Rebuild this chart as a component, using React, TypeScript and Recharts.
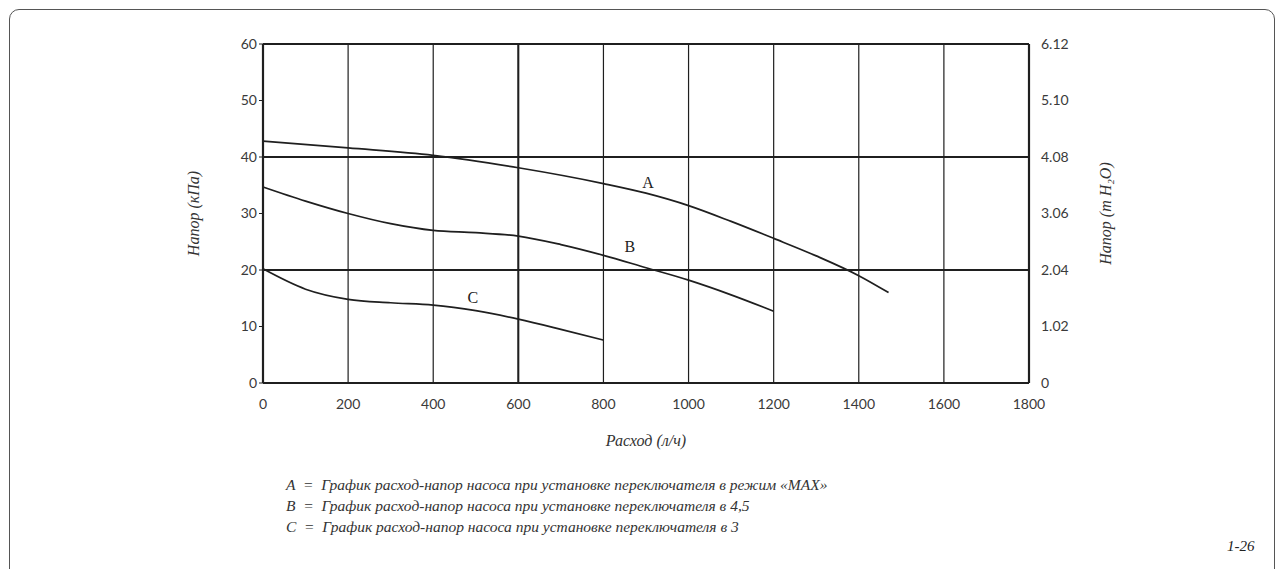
import React from 'react';
import { ComposedChart, Line, XAxis, YAxis, CartesianGrid, ReferenceLine, ReferenceDot } from 'recharts';

const flowTicks = [0, 200, 400, 600, 800, 1000, 1200, 1400, 1600, 1800];
const kpaTicks = [0, 10, 20, 30, 40, 50, 60];
const waterTicks = [0, 1.02, 2.04, 3.06, 4.08, 5.1, 6.12];

const curveA = [
  { flow: 0, head: 42.8 },
  { flow: 200, head: 41.6 },
  { flow: 400, head: 40.3 },
  { flow: 600, head: 38.1 },
  { flow: 800, head: 35.3 },
  { flow: 900, head: 33.6 },
  { flow: 1000, head: 31.4 },
  { flow: 1100, head: 28.6 },
  { flow: 1200, head: 25.6 },
  { flow: 1300, head: 22.5 },
  { flow: 1400, head: 19.0 },
  { flow: 1470, head: 16.0 },
];

const curveB = [
  { flow: 0, head: 34.7 },
  { flow: 100, head: 32.2 },
  { flow: 200, head: 30.0 },
  { flow: 300, head: 28.2 },
  { flow: 400, head: 27.0 },
  { flow: 500, head: 26.6 },
  { flow: 600, head: 26.0 },
  { flow: 700, head: 24.5 },
  { flow: 800, head: 22.6 },
  { flow: 900, head: 20.4 },
  { flow: 1000, head: 18.2 },
  { flow: 1100, head: 15.6 },
  { flow: 1200, head: 12.7 },
];

const curveC = [
  { flow: 0, head: 20.2 },
  { flow: 100, head: 16.6 },
  { flow: 200, head: 14.8 },
  { flow: 300, head: 14.2 },
  { flow: 400, head: 13.8 },
  { flow: 500, head: 12.8 },
  { flow: 600, head: 11.3 },
  { flow: 700, head: 9.5 },
  { flow: 800, head: 7.6 },
];

// same curve A, in metres of water (1 kPa = 0.102 m), keeps the right axis alive
const curveAWater = curveA.map((p) => ({ flow: p.flow, water: p.head * 0.102 }));

const curveLabels = [
  { name: 'A', flow: 905, head: 35.6 },
  { name: 'B', flow: 862, head: 24.2 },
  { name: 'C', flow: 493, head: 15.2 },
];

const legendLines = [
  'A  =  График расход-напор насоса при установке переключателя в режим «MAX»',
  'B  =  График расход-напор насоса при установке переключателя в 4,5',
  'C  =  График расход-напор насоса при установке переключателя в 3',
];

const tickStyle = { fontFamily: 'Lato, sans-serif', fontSize: 14, fill: '#3a3a3a' };
const serif = '"Liberation Serif", "DejaVu Serif", serif';
const ink = '#1f1f1f';
const titleStyle = { fontFamily: serif, fontStyle: 'italic', fontSize: 16, fill: '#333', textAnchor: 'middle' };

export default function App() {
  return (
    <div style={{ position: 'fixed', left: 0, top: 0, width: 1282, height: 569, background: '#fff', overflow: 'hidden' }}>
      <div
        style={{
          position: 'absolute',
          left: 9,
          top: 9,
          width: 1264,
          height: 570,
          border: '1.5px solid #555',
          borderRadius: 10,
        }}
      />
      <ComposedChart
        width={1282}
        height={569}
        margin={{ top: 44, right: 193, bottom: 156, left: 203 }}
        style={{ position: 'absolute', left: 0, top: 0 }}
      >
        <CartesianGrid stroke={ink} strokeWidth={1.2} horizontalValues={kpaTicks} verticalValues={flowTicks} />
        <ReferenceLine yAxisId="kpa" y={20} stroke={ink} strokeWidth={2} />
        <ReferenceLine yAxisId="kpa" y={40} stroke={ink} strokeWidth={2} />
        <ReferenceLine yAxisId="kpa" y={60} stroke={ink} strokeWidth={2.2} />
        <ReferenceLine yAxisId="kpa" x={600} stroke={ink} strokeWidth={2} />
        <ReferenceLine yAxisId="kpa" x={1800} stroke={ink} strokeWidth={2.2} />
        <XAxis
          dataKey="flow"
          type="number"
          domain={[0, 1800]}
          ticks={flowTicks}
          height={30}
          axisLine={{ stroke: ink, strokeWidth: 2.2 }}
          tickLine={false}
          tick={tickStyle}
          tickMargin={10}
          allowDuplicatedCategory={false}
          label={{ value: 'Расход (л/ч)', position: 'bottom', offset: 22, style: titleStyle }}
        />
        <YAxis
          yAxisId="kpa"
          type="number"
          domain={[0, 60]}
          ticks={kpaTicks}
          width={60}
          axisLine={{ stroke: ink, strokeWidth: 2.2 }}
          tickLine={{ stroke: ink }}
          tickSize={4}
          tick={tickStyle}
          label={{ value: 'Напор (кПа)', angle: -90, position: 'left', offset: 10, style: titleStyle }}
        />
        <YAxis
          yAxisId="water"
          orientation="right"
          type="number"
          domain={[0, 6.12]}
          ticks={waterTicks}
          width={60}
          axisLine={false}
          tickLine={false}
          tick={tickStyle}
          tickMargin={6}
          tickFormatter={(v: number) => (v === 0 ? '0' : v.toFixed(2))}
          label={{ value: 'Напор (m H₂O)', angle: -90, position: 'right', offset: 16, style: titleStyle }}
        />
        <Line yAxisId="water" data={curveAWater} dataKey="water" stroke="none" dot={false} activeDot={false} isAnimationActive={false} />
        <Line yAxisId="kpa" data={curveA} dataKey="head" type="monotone" stroke={ink} strokeWidth={1.7} dot={false} isAnimationActive={false} />
        <Line yAxisId="kpa" data={curveB} dataKey="head" type="monotone" stroke={ink} strokeWidth={1.7} dot={false} isAnimationActive={false} />
        <Line yAxisId="kpa" data={curveC} dataKey="head" type="monotone" stroke={ink} strokeWidth={1.7} dot={false} isAnimationActive={false} />
        {curveLabels.map((l) => (
          <ReferenceDot
            key={l.name}
            yAxisId="kpa"
            x={l.flow}
            y={l.head}
            r={0}
            stroke="none"
            label={{ value: l.name, position: 'center', style: { fontFamily: serif, fontSize: 16, fill: '#222' } }}
          />
        ))}
      </ComposedChart>
      <div style={{ position: 'absolute', left: 286, top: 474, fontFamily: serif, fontStyle: 'italic', fontSize: 15.5, color: '#333', lineHeight: '21px', whiteSpace: 'pre' }}>
        {legendLines.map((t) => (
          <div key={t}>{t}</div>
        ))}
      </div>
      <div style={{ position: 'absolute', left: 1227, top: 538, fontFamily: serif, fontStyle: 'italic', fontSize: 15, color: '#222' }}>1-26</div>
    </div>
  );
}
